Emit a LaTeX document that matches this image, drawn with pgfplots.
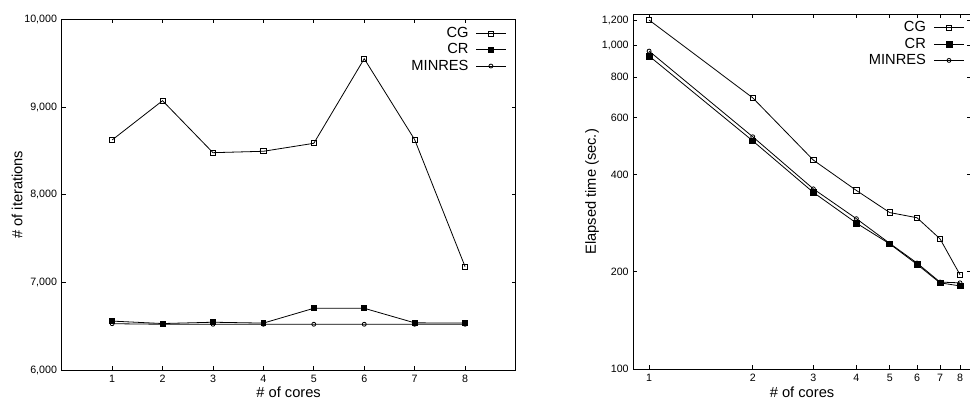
\documentclass[border=0pt]{standalone}
\usepackage{fontspec}
\setmainfont{Liberation Sans}
\usepackage{pgfplots}
\pgfplotsset{compat=1.18}
\newcommand{\lf}{\fontsize{11}{13}\selectfont}
\begin{document}
\begin{tikzpicture}
\pgfplotsset{
  every axis/.append style={
    scale only axis,
    axis line style={black, line width=0.6pt},
    tick style={black, line width=0.6pt},
    major tick length=3pt,
    tick align=inside,
    scaled y ticks=false,
    /pgf/number format/assume math mode=true,
    tick label style={font=\fontsize{8}{9}\selectfont},
    legend plot pos=right,
    legend cell align=right,
    legend style={draw=none, fill=none, inner sep=0pt, outer sep=0pt,
      nodes={inner sep=0pt, text height=8pt, text depth=2pt},
      row sep=2.2pt, column sep=5.5pt},
    legend image code/.code={%
      \draw[mark repeat=2,mark phase=2,#1] plot coordinates {(0pt,0pt) (11pt,0pt) (22pt,0pt)};},
  },
  cg/.style={black, line width=0.6pt, mark=square, mark size=1.9pt, mark options={solid, line width=0.6pt}},
  cr/.style={black, line width=0.6pt, mark=square*, mark size=1.8pt, mark options={solid}},
  mr/.style={black, line width=0.6pt, mark=o, mark size=1.5pt, mark options={solid, line width=0.6pt}},
}
\begin{axis}[
  at={(46.28pt,23.25pt)}, anchor=south west,
  width=340.35pt, height=263pt,
  xmin=0, xmax=9, ymin=6000, ymax=10000,
  xtick={1,2,3,4,5,6,7,8},
  ytick={6000,7000,8000,9000,10000},
  yticklabels={{6,000},{7,000},{8,000},{9,000},{10,000}},
  xlabel={\lf\# of cores}, ylabel={\lf\# of iterations},
  xlabel style={at={(axis description cs:0.5,-0.0627)}, anchor=center},
  ylabel style={at={(axis description cs:-0.0985,0.5)}, anchor=center},
  legend style={at={(axis description cs:0.979,0.9786)}, anchor=north east},
]
\addplot[cg] coordinates {(1,8624) (2,9072) (3,8479) (4,8495) (5,8586) (6,9551) (7,8628) (8,7179)};
\addplot[cr] coordinates {(1,6558) (2,6530) (3,6545) (4,6535) (5,6704) (6,6704) (7,6538) (8,6535)};
\addplot[mr] coordinates {(1,6528) (2,6522) (3,6522) (4,6522) (5,6522) (6,6522) (7,6522) (8,6522)};
\legend{\lf CG,\lf CR,\lf MINRES}
\end{axis}
\begin{axis}[
  at={(475pt,23.78pt)}, anchor=south west,
  width=253.1pt, height=266.25pt,
  xmode=log, ymode=log,
  xmin=0.9, xmax=8.6, ymin=100, ymax=1250,
  xtick={1,2,3,4,5,6,7,8}, xticklabels={1,2,3,4,5,6,7,8},
  ytick={100,200,400,600,800,1000,1200},
  yticklabels={100,200,400,600,800,{1,000},{1,200}},
  minor xtick={}, minor ytick={},
  xlabel={\lf\# of cores}, ylabel={\lf Elapsed time (sec.)},
  xlabel style={at={(axis description cs:0.5,-0.064)}, anchor=center},
  ylabel style={at={(axis description cs:-0.122,0.5)}, anchor=center},
  legend style={at={(axis description cs:0.98,0.9805)}, anchor=north east, column sep=6pt},
]
\addplot[cg, mark size=2pt] coordinates {(1,1200) (2,690) (3,443) (4,357) (5,305) (6,294) (7,253) (8,196)};
\addplot[cr, mark size=2.2pt] coordinates {(1,929) (2,508) (3,352) (4,283) (5,244) (6,211) (7,185) (8,181)};
\addplot[mr] coordinates {(1,962) (2,523) (3,361) (4,292) (5,245) (6,213) (7,186) (8,185)};
\legend{\lf CG,\lf CR,\lf MINRES}
\end{axis}
\pgfresetboundingbox
\useasboundingbox (0pt,0pt) rectangle (727.5pt,300.75pt);
\end{tikzpicture}
\end{document}
